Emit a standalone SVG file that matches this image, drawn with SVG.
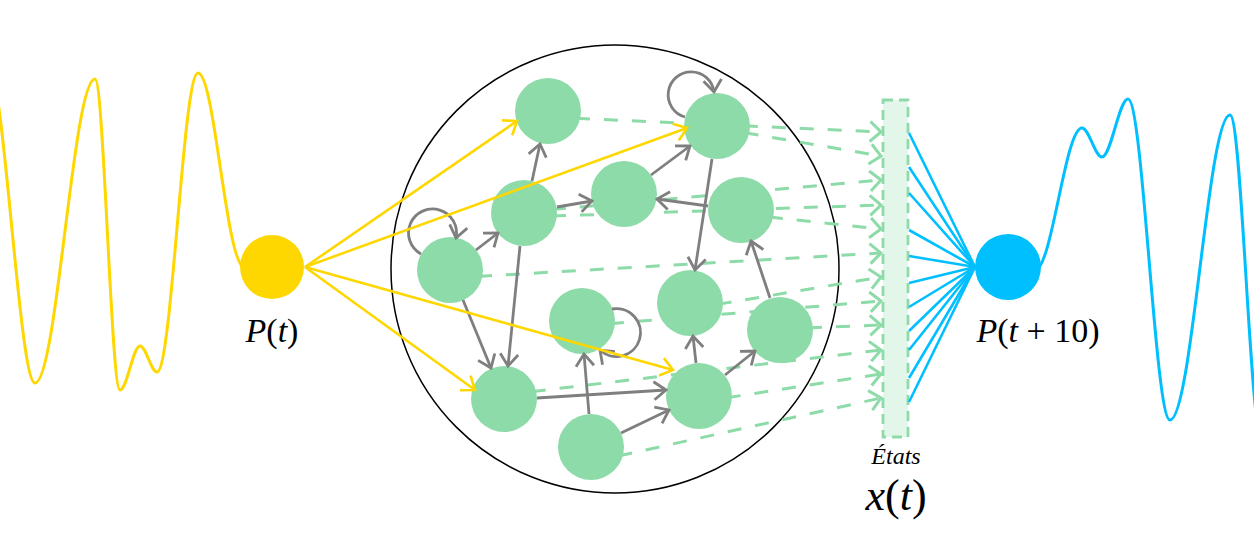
<svg xmlns="http://www.w3.org/2000/svg" width="1254" height="537" viewBox="0 0 1254 537">
  <style>
    .node { fill: #8ddba8; }
    .edge { fill: none; stroke: #7f7f7f; stroke-width: 2.8; marker-end: url(#headGray); }
    .input { fill: none; stroke: #ffd700; stroke-width: 2.6; marker-end: url(#headGold); }
    .state { fill: none; stroke: #8ddba8; stroke-width: 3; stroke-dasharray: 14 14; marker-end: url(#headGreen); }
    .readout { fill: none; stroke: #00bfff; stroke-width: 2.6; }
    .wave { fill: none; stroke-width: 3; stroke-linejoin: round; }
    .math { font-family: "Liberation Serif", "DejaVu Serif", serif; fill: #000; }
  </style>
  <defs>
    <marker id="headGray" viewBox="-16 -12 18 24" refX="0" refY="0" markerWidth="18" markerHeight="24" markerUnits="userSpaceOnUse" orient="auto">
      <path d="M-12,-9 L0,0 L-12,9" fill="none" stroke="#7f7f7f" stroke-width="2.8"/>
    </marker>
    <marker id="headGold" viewBox="-16 -12 18 24" refX="0" refY="0" markerWidth="18" markerHeight="24" markerUnits="userSpaceOnUse" orient="auto">
      <path d="M-12,-9 L0,0 L-12,9" fill="none" stroke="#ffd700" stroke-width="2.6"/>
    </marker>
    <marker id="headGreen" viewBox="-15 -13 17 26" refX="0" refY="0" markerWidth="17" markerHeight="26" markerUnits="userSpaceOnUse" orient="auto">
      <path d="M-11,-10 L0,0 L-11,10" fill="none" stroke="#8ddba8" stroke-width="3"/>
    </marker>
  </defs>

  <!-- input signal P(t) -->
  <g id="input-signal">
    <path class="wave" stroke="#ffd700" d="M-12,66 C4,66 19,383 35,383 C57,383 73,79 95,79 C104,79 111,390 120,390 C127,390 133,346 140,346 C146,346 151,372 157,372 C172,372 183,73 198,73 C215,73 226,268 245,268"/>
    <circle cx="272" cy="267" r="32" fill="#ffd700"/>
    <text class="math" x="272" y="342" font-size="34" text-anchor="middle"><tspan font-style="italic">P</tspan>(<tspan font-style="italic">t</tspan>)</text>
  </g>

  <!-- reservoir boundary -->
  <circle id="reservoir" cx="615" cy="269" r="224" fill="none" stroke="#000" stroke-width="1.5"/>

  <!-- readout bar -->
  <g id="states">
    <rect x="883" y="100" width="25" height="337" fill="#e2f6e9" stroke="#8ddba8" stroke-width="2.8" stroke-dasharray="10 6"/>
    <text class="math" x="896" y="464" font-size="24" font-style="italic" text-anchor="middle">États</text>
    <text class="math" x="896" y="510" font-size="44" text-anchor="middle"><tspan font-style="italic">x</tspan>(<tspan font-style="italic">t</tspan>)</text>
  </g>

  <!-- state taps: reservoir units to readout -->
  <g id="state-connectors">
    <path class="state" d="M548,117 L881,132"/>
    <path class="state" d="M717,128 L881,156"/>
    <path class="state" d="M524,212 L881,180"/>
    <path class="state" d="M524,217 L881,205"/>
    <path class="state" d="M741,214 L881,229"/>
    <path class="state" d="M450,278 L881,253"/>
    <path class="state" d="M690,309 L881,277"/>
    <path class="state" d="M582,326 L881,301"/>
    <path class="state" d="M780,329 L881,325"/>
    <path class="state" d="M504,395 L881,350"/>
    <path class="state" d="M699,402 L881,374"/>
    <path class="state" d="M591,462 L881,398"/>
  </g>

  <!-- reservoir units -->
  <g id="n1"><circle class="node" cx="548" cy="111" r="33"/></g>
  <g id="n2"><circle class="node" cx="524" cy="213" r="33"/></g>
  <g id="n3"><circle class="node" cx="624" cy="194" r="33"/></g>
  <g id="n4"><circle class="node" cx="450" cy="270" r="33"/></g>
  <g id="n5"><circle class="node" cx="717" cy="126" r="33"/></g>
  <g id="n6"><circle class="node" cx="741" cy="210" r="33"/></g>
  <g id="n7"><circle class="node" cx="690" cy="303" r="33"/></g>
  <g id="n8"><circle class="node" cx="780" cy="330" r="33"/></g>
  <g id="n9"><circle class="node" cx="699" cy="396" r="33"/></g>
  <g id="n10"><circle class="node" cx="582" cy="321" r="33"/></g>
  <g id="n11"><circle class="node" cx="504" cy="399" r="33"/></g>
  <g id="n12"><circle class="node" cx="591" cy="447" r="33"/></g>

  <!-- recurrent connections -->
  <g id="recurrent-connectors">
    <path class="edge" d="M476,250 L498,233"/>
    <path class="edge" d="M532,181 L540,144"/>
    <path class="edge" d="M557,207 L592,201"/>
    <path class="edge" d="M520,246 L508,366"/>
    <path class="edge" d="M463,300 L491,368"/>
    <path class="edge" d="M651,175 L690,146"/>
    <path class="edge" d="M708,206 L657,199"/>
    <path class="edge" d="M712,159 L695,270"/>
    <path class="edge" d="M770,298 L751,241"/>
    <path class="edge" d="M589,414 L584,354"/>
    <path class="edge" d="M537,398 L666,390"/>
    <path class="edge" d="M621,433 L669,410"/>
    <path class="edge" d="M696,363 L693,336"/>
    <path class="edge" d="M725,375 L755,351"/>
    <path class="edge" d="M421,254 A24,24 0 1 1 456,238"/>
    <path class="edge" d="M685,117 A23,23 0 1 1 714,92"/>
    <path class="edge" d="M612,309 A24,24 0 1 1 600,350"/>
  </g>

  <!-- input weights -->
  <g id="input-connectors">
    <path class="input" d="M305,267 L517,121"/>
    <path class="input" d="M305,267 L687,128"/>
    <path class="input" d="M305,267 L475,390"/>
    <path class="input" d="M305,267 L673,370"/>
  </g>

  <!-- readout weights -->
  <g id="readout-connectors">
    <path class="readout" d="M909,133 L975,267"/>
    <path class="readout" d="M909,167 L975,267"/>
    <path class="readout" d="M909,193 L975,267"/>
    <path class="readout" d="M909,230 L975,267"/>
    <path class="readout" d="M909,256 L975,267"/>
    <path class="readout" d="M909,283 L975,267"/>
    <path class="readout" d="M909,307 L975,267"/>
    <path class="readout" d="M909,331 L975,267"/>
    <path class="readout" d="M909,350 L975,267"/>
    <path class="readout" d="M909,378 L975,267"/>
    <path class="readout" d="M909,402 L975,267"/>
  </g>

  <!-- output signal P(t+10) -->
  <g id="output-signal">
    <path class="wave" stroke="#00bfff" d="M1035,270 C1052,270 1065,128 1082,128 C1089,128 1095,157 1102,157 C1111,157 1119,99 1128,99 C1143,99 1155,420 1170,420 C1192,420 1208,115 1230,115 C1242,115 1250,440 1262,440"/>
    <circle cx="1008" cy="267" r="33" fill="#00bfff"/>
    <text class="math" x="1038" y="342" font-size="34" text-anchor="middle"><tspan font-style="italic">P</tspan>(<tspan font-style="italic">t</tspan> + 10)</text>
  </g>
</svg>
